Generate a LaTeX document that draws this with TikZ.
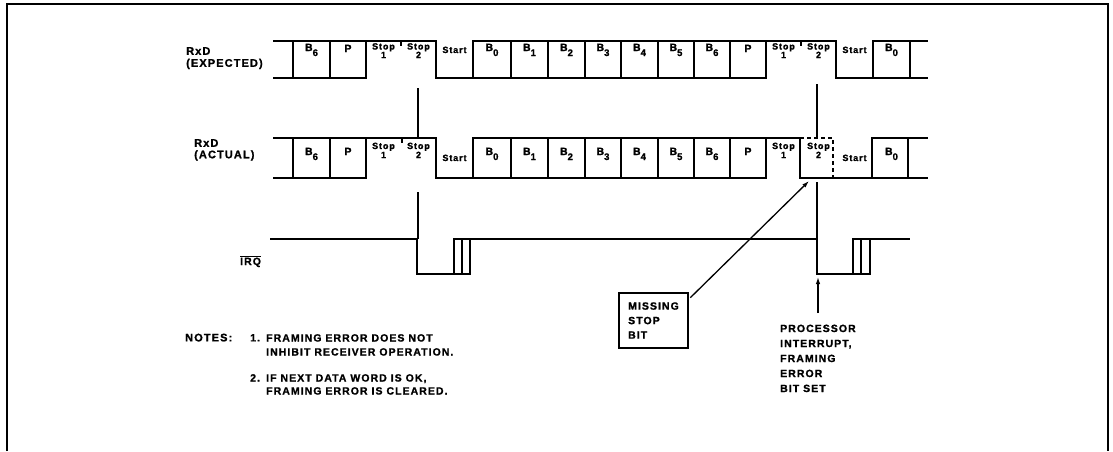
\documentclass[tikz,border=0pt]{standalone}
\usepackage{fontspec}
\setmainfont{Liberation Sans}[LetterSpace=10, BoldFeatures={FakeBold=1.2}]
\usetikzlibrary{arrows.meta}
\tikzset{
  wave/.style={line width=2.6pt, line join=miter},
  sep/.style={line width=2.4pt},
  dashwave/.style={line width=2.4pt, dash pattern=on 4pt off 3pt},
  thin/.style={line width=1.3pt},
  tick/.style={line width=1.3pt},
  frame/.style={line width=2.3pt},
  lbl/.style={font=\fontsize{10.5}{12}\selectfont\bfseries, inner sep=0pt, anchor=base},
  slbl/.style={font=\fontsize{9}{10}\selectfont\bfseries, inner sep=0pt, anchor=base},
  txt/.style={font=\fontsize{10.5}{14.5}\selectfont\bfseries, inner sep=0pt, anchor=north west, align=left},
  arr/.style={line width=1.3pt, -{Latex[length=7pt,width=4.5pt]}},
}
\newcommand{\bsub}[1]{B\raisebox{-5pt}{\fontsize{9.5}{9.5}\selectfont #1}}
\begin{document}
\begin{tikzpicture}[x=1pt,y=-1pt]
\useasboundingbox (0,0) rectangle (1113,451);
% frame
\draw[frame] (7,451) -- (7,4) -- (1108,4) -- (1108,451);

% ---------- RxD expected (top 41, bottom 78)
\draw[wave] (273,41) -- (436,41) -- (436,78) -- (473,78) -- (473,41) -- (836,41) -- (836,78) -- (873,78) -- (873,41) -- (928,41);
\draw[wave] (273,78) -- (366,78) -- (366,41);
\draw[wave] (436,78) -- (766,78) -- (766,41);
\draw[wave] (836,78) -- (928,78);
\foreach \x in {293,330,511,548,585,621,658,694,730,910} \draw[sep] (\x,41) -- (\x,78);
\draw[tick] (401,41) -- (401,46);
\draw[tick] (801,41) -- (801,46);

% ---------- RxD actual (top 138, bottom 178)
\draw[wave] (273,138) -- (436,138) -- (436,178) -- (473,178) -- (473,138) -- (800,138) -- (800,178) -- (872,178) -- (872,138) -- (928,138);
\draw[wave] (273,178) -- (366,178) -- (366,138);
\draw[wave] (436,178) -- (766,178) -- (766,138);
\draw[wave] (872,178) -- (928,178);
\foreach \x in {293,330,511,548,585,621,658,694,730,908} \draw[sep] (\x,138) -- (\x,178);
\draw[dashwave] (800,138) -- (833,138) -- (833,178);
\draw[tick] (402,138) -- (402,143);

% ---------- cell labels
\foreach \cx/\d [count=\i] in {311.5/6,492/0,529.5/1,566.5/2,603/3,639.5/4,676/5,712/6,891.5/0}{
  \node[lbl] (eb\i) at (\cx,51) {\bsub{\d}};
  \node[lbl] (ab\i) at (\cx,155) {\bsub{\d}};
}
\foreach \cx [count=\i] in {348,748}{
  \node[lbl] (ep\i) at (\cx,52) {P};
  \node[lbl] (ap\i) at (\cx,155) {P};
}
\foreach \cx/\d [count=\i] in {383.5/1,418.5/2,783.5/1,818.5/2}{
  \node[slbl] (es\i) at (\cx,49.5) {Stop};
  \node[slbl] (esd\i) at (\cx,58) {\d};
  \node[slbl] (as\i) at (\cx,149) {Stop};
  \node[slbl] (asd\i) at (\cx,158) {\d};
}
\foreach \cx [count=\i] in {454.5,854.5}{
  \node[slbl] (est\i) at (\cx,53) {Start};
  \node[slbl] (ast\i) at (\cx,161) {Start};
}

% ---------- row labels
\node[txt, font=\fontsize{11}{12}\selectfont\bfseries] (rxe) at (186,47) {RxD\\(EXPECTED)};
\node[txt, font=\fontsize{11}{11.5}\selectfont\bfseries] (rxa) at (194,139) {RxD\\(ACTUAL)};
\node[lbl, anchor=base west] (irq) at (240,265) {$\overline{\hbox{\bfseries IRQ}}$};

% ---------- IRQ waveform
\draw[wave] (270,239) -- (417,239) -- (417,274) -- (470,274) -- (470,239);
\draw[wave] (454,274) -- (454,239) -- (817,239) -- (817,274) -- (870,274) -- (870,239);
\draw[wave] (853,274) -- (853,239) -- (910,239);
\draw[sep, line width=1.8pt] (462,274) -- (462,239);
\draw[sep, line width=1.8pt] (861,274) -- (861,239);

% ---------- connector lines
\draw[thin] (418,88) -- (418,138);
\draw[thin] (418,192) -- (418,239);
\draw[thin] (817,84) -- (817,138);
\draw[thin] (817,182) -- (817,239);

% ---------- missing stop bit
\node[draw, line width=2.6pt, minimum width=69pt, minimum height=55pt, inner xsep=6pt,
      align=left, font=\fontsize{10.5}{14.5}\selectfont\bfseries] (miss) at (653.5,320.5) {MISSING\\STOP\\BIT};
\coordinate (mtip) at (809,181);
\draw[arr] (miss.north east) ++(1,6) -- (mtip);

% ---------- processor interrupt
\node[txt, font=\fontsize{10.5}{15}\selectfont\bfseries] (proc) at (780,324.5) {PROCESSOR\\INTERRUPT,\\FRAMING\\ERROR\\BIT SET};
\coordinate (ptail) at (818,313);
\coordinate (phead) at (818,277);
\draw[arr] (ptail) -- (phead);

% ---------- notes
\node[txt, font=\fontsize{11}{14}\selectfont\bfseries] (notes) at (185,333.5) {NOTES:};
\node[txt] (n1) at (250,334) {1.};
\node[txt, font=\fontsize{10.5}{14}\selectfont\bfseries] (n1t) at (266,334) {FRAMING ERROR DOES NOT\\INHIBIT RECEIVER OPERATION.};
\node[txt] (n2) at (250,374) {2.};
\node[txt, font=\fontsize{10.5}{13}\selectfont\bfseries] (n2t) at (266,374) {IF NEXT DATA WORD IS OK,\\FRAMING ERROR IS CLEARED.};
\end{tikzpicture}
\end{document}
